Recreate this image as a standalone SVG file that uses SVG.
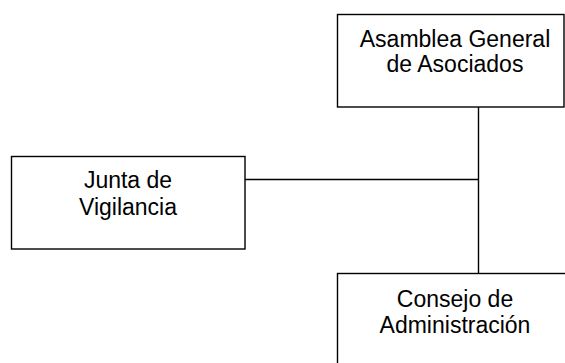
<svg xmlns="http://www.w3.org/2000/svg" width="565" height="363" viewBox="0 0 565 363">
<style>
.box{fill:#fff;stroke:#000;stroke-width:1.4}
.t{font-family:"Liberation Sans",Arial,sans-serif;font-size:23px;fill:#000;text-anchor:middle}
.c{stroke:#000;stroke-width:1.4;fill:none}
</style>
<rect width="565" height="363" fill="#fff"/>
<g id="connectors">
<line class="c" x1="478.5" y1="107" x2="478.5" y2="273.5"/>
<line class="c" x1="245" y1="179.5" x2="478.5" y2="179.5"/>
</g>
<g id="asamblea">
<rect class="box" x="337.5" y="14.5" width="226.5" height="92.5"/>
<text class="t" x="455" y="46.5">Asamblea General</text>
<text class="t" x="455" y="71.5">de Asociados</text>
</g>
<g id="junta">
<rect class="box" x="11.5" y="156.5" width="233.5" height="92.5"/>
<text class="t" x="128" y="188">Junta de</text>
<text class="t" x="128" y="214.5">Vigilancia</text>
</g>
<g id="consejo">
<rect class="box" x="337.5" y="273.5" width="236" height="100"/>
<text class="t" x="455" y="307">Consejo de</text>
<text class="t" x="455" y="333">Administración</text>
</g>
</svg>
